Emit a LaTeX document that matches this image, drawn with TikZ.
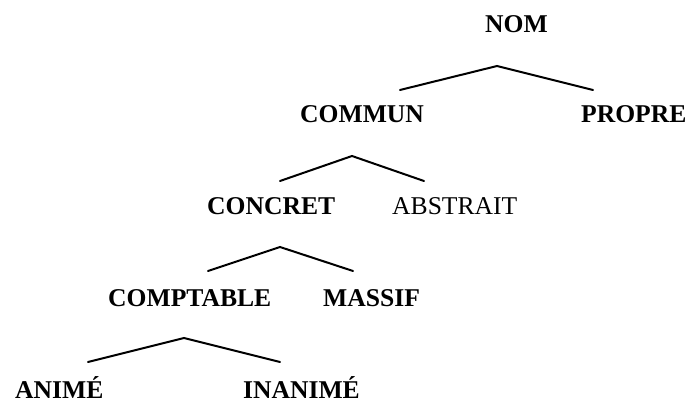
\documentclass[tikz,border=0pt]{standalone}
\usepackage{fontspec}
\setmainfont{Liberation Serif}
\begin{document}
\begin{tikzpicture}[x=1pt,y=-1pt,
  lbl/.style={anchor=base west,inner sep=0pt,font=\fontsize{25.6}{30}\selectfont\bfseries},
  lblreg/.style={anchor=base west,inner sep=0pt,font=\fontsize{25.6}{30}\selectfont},
  branch/.style={line width=2pt,line cap=round}]
\useasboundingbox (0,0) rectangle (689,403);
\node[lbl] (nom) at (485,33) {NOM};
\node[lbl] (commun) at (300,123) {COMMUN};
\node[lbl] (propre) at (581,123) {PROPRE};
\node[lbl] (concret) at (207,215) {CONCRET};
\node[lblreg] (abstrait) at (392,215) {ABSTRAIT};
\node[lbl] (comptable) at (108,307) {COMPTABLE};
\node[lbl] (massif) at (323,307) {MASSIF};
\node[lbl] (anime) at (15,399) {ANIMÉ};
\node[lbl] (inanime) at (243,399) {INANIMÉ};
\coordinate (a1) at (497,66);
\coordinate (l1) at (400,90);
\coordinate (r1) at (593,90);
\coordinate (a2) at (352,156);
\coordinate (l2) at (280,181);
\coordinate (r2) at (424,181);
\coordinate (a3) at (280,247);
\coordinate (l3) at (208,271);
\coordinate (r3) at (353,271);
\coordinate (a4) at (184,338);
\coordinate (l4) at (88,362);
\coordinate (r4) at (280,362);
\draw[branch] (l1) -- (a1) -- (r1);
\draw[branch] (l2) -- (a2) -- (r2);
\draw[branch] (l3) -- (a3) -- (r3);
\draw[branch] (l4) -- (a4) -- (r4);
\end{tikzpicture}
\end{document}
